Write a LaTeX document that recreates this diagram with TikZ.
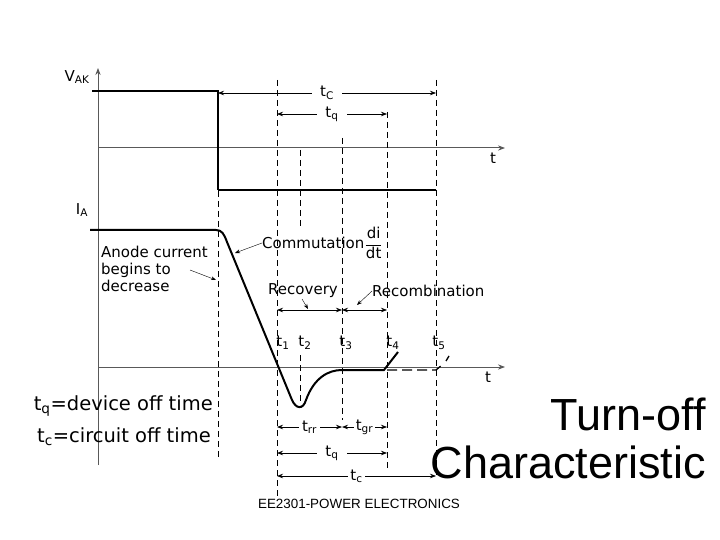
\documentclass[tikz,border=0pt]{standalone}
\usepackage{fontspec}
\setmainfont{DejaVu Sans}
\newfontfamily\arial{Liberation Sans}
\usetikzlibrary{arrows.meta}
\begin{document}
\begin{tikzpicture}[x=1pt,y=-1pt,
  lbl/.style={font=\fontsize{15}{17}\selectfont,inner sep=0pt},
  dsh/.style={dash pattern=on 6pt off 4pt,line width=0.8pt},
  dim/.style={{Stealth[length=6pt]}-{Stealth[length=6pt]},line width=0.7pt},
  wave/.style={line width=2pt},
  ax/.style={gray!70!black,line width=1pt}]
\useasboundingbox (0,0) rectangle (720,540);
% axes
\coordinate (o) at (98,465); \coordinate (top) at (98,68);
\draw[ax,-{Stealth[length=7pt]}] (o) -- (top);
\coordinate (a1) at (98,148); \coordinate (a1e) at (505,148);
\draw[ax,-{Stealth[length=7pt]}] (a1) -- (a1e);
\coordinate (a2) at (98,367); \coordinate (a2e) at (505,367);
\draw[ax,-{Stealth[length=7pt]}] (a2) -- (a2e);
\node[lbl] (vak) at (77,77) {V\textsubscript{AK}};
\node[lbl] (ia) at (82,210) {I\textsubscript{A}};
\node[lbl] (tt1) at (493,158) {t};
\node[lbl] (tt2) at (488,377) {t};
% dashed verticals
\draw[dsh] (218,91) -- (218,460);
\draw[dsh] (277,80) -- (277,500);
\draw[dsh] (300,150) -- (300,228);
\draw[dsh] (300,355) -- (300,405);
\draw[dsh] (342,138) -- (342,420);
\draw[dsh] (387,112) -- (387,470);
\draw[dsh] (436,80) -- (436,475);
% voltage
\draw[wave] (92,91) -- (218,91) -- (218,190);
\draw[line width=1.3pt] (218,190) -- (436,190);
% current
\draw[wave] (90,230) -- (216,230) .. controls (222,230) and (224,234) .. (227,242)
  -- (292,400) .. controls (296,409) and (303,410) .. (306,400)
  .. controls (314,378) and (328,370) .. (342,370) -- (384,370) -- (398,352);
\draw[line width=1.3pt,dash pattern=on 10pt off 5pt] (387,370) -- (436,370) -- (442,365);
\draw[line width=1.3pt] (446,361) -- (449,356);
% dimension arrows
\draw[dim] (218,93) -- node[lbl,fill=white,inner xsep=8pt] (tC) {t\textsubscript{C}} (436,93);
\draw[dim] (277,114) -- node[lbl,fill=white,inner xsep=8pt] (tq1) {t\textsubscript{q}} (387,114);
\draw[dim] (277,310) -- (342,310);
\draw[dim] (342,310) -- (387,310);
\draw[dim] (277,427) -- node[lbl,fill=white,inner xsep=3pt] (trr) {t\textsubscript{rr}} (342,427);
\draw[dim] (342,427) -- node[lbl,fill=white,inner xsep=2pt] (tgr) {t\textsubscript{gr}} (387,427);
\draw[dim] (277,453) -- node[lbl,fill=white,inner xsep=8pt] (tq2) {t\textsubscript{q}} (387,453);
\draw[dim] (277,476) -- node[lbl,fill=white,inner xsep=2pt] (tc2) {t\textsubscript{c}} (436,476);
% labels
\node[lbl,anchor=west] (comm) at (262,243) {Commutation};
\node[lbl,anchor=west,inner sep=0pt] (frac) at (comm.east) {$\displaystyle\frac{\textrm{di}}{\textrm{dt}}$};
\coordinate (commtip) at (235,253);
\draw[-{Stealth[length=5pt]}] (comm.west) -- (commtip);
\node[lbl,anchor=north west,align=left] (anode) at (101,246) {Anode current\\begins to\\decrease};
\coordinate (antip) at (216,280);
\draw[-{Stealth[length=5pt]}] (190,270) -- (antip);
\node[lbl] (rec) at (303,291) {Recovery};
\coordinate (rectip) at (308,309);
\draw[-{Stealth[length=5pt]}] (302,299) -- (rectip);
\node[lbl,anchor=west] (recomb) at (372,291) {Recombination};
\coordinate (rctip) at (357,305);
\draw[-{Stealth[length=5pt]}] (recomb.west) -- (rctip);
\node[lbl] (t1) at (283,343) {t\textsubscript{1}};
\node[lbl] (t2) at (305,343) {t\textsubscript{2}};
\node[lbl] (t3) at (346,343) {t\textsubscript{3}};
\node[lbl] (t4) at (393,343) {t\textsubscript{4}};
\node[lbl] (t5) at (439,343) {t\textsubscript{5}};
\node[font=\fontsize{19.5}{21}\selectfont,inner sep=0pt,anchor=east] (d1) at (213,406) {t\textsubscript{q}=device off time};
\node[font=\fontsize{19.5}{21}\selectfont,inner sep=0pt,anchor=east] (d2) at (211,437) {t\textsubscript{c}=circuit off time};
\node[font=\arial\fontsize{45}{48}\selectfont,inner sep=0pt,anchor=east] (title1) at (706,414) {Turn-off};
\node[font=\arial\fontsize{45}{48}\selectfont,inner sep=0pt,anchor=east] (title2) at (706,462) {Characteristic};
\node[font=\arial\fontsize{13.4}{15}\selectfont,inner sep=0pt] (foot) at (359,504) {EE2301-POWER ELECTRONICS};
\end{tikzpicture}
\end{document}
